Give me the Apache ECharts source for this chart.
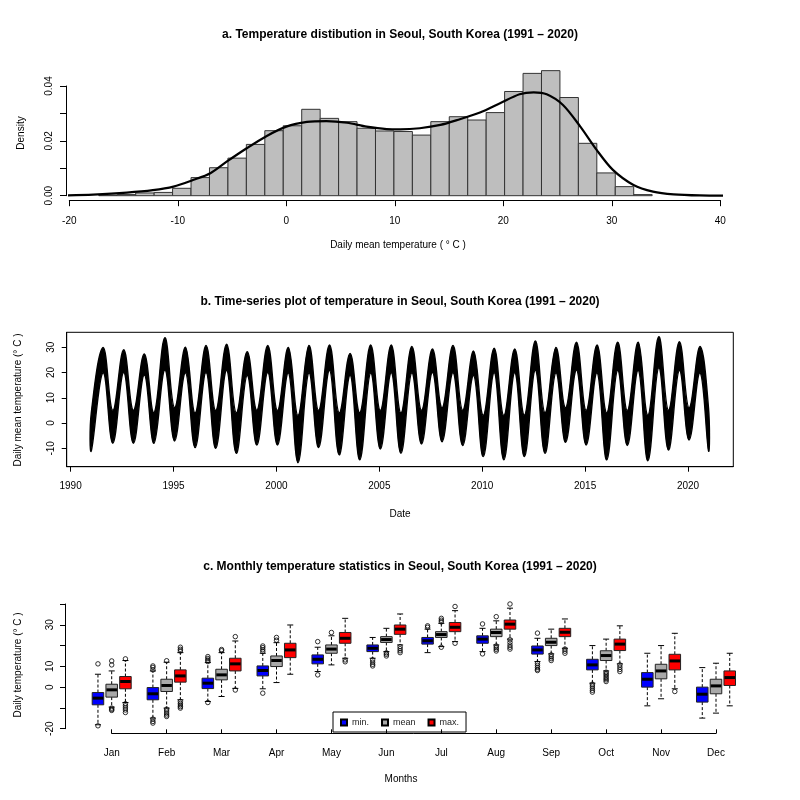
<!DOCTYPE html>
<html><head><meta charset="utf-8">
<script src="https://cdn.jsdelivr.net/npm/echarts@6/dist/echarts.min.js"></script>
<style>html,body{margin:0;padding:0;background:#fff}#c{width:800px;height:800px}</style>
</head><body><div id="c"></div>
<script>
// ---------- Panel a: histogram of daily mean temperature ----------
const histEdges = [-17.28,-15.58,-13.88,-12.18,-10.48,-8.78,-7.08,-5.38,-3.68,-1.98,-0.28,1.42,3.12,4.82,6.52,8.22,9.92,11.62,13.32,15.02,16.72,18.42,20.12,21.82,23.52,25.22,26.92,28.62,30.32,32.02,33.72];
const histDensity = [0.0002,0.0004,0.0010,0.0012,0.0027,0.0066,0.0102,0.0137,0.0187,0.0237,0.0255,0.0315,0.0282,0.0270,0.0246,0.0236,0.0234,0.0221,0.0270,0.0288,0.0276,0.0303,0.0380,0.0446,0.0456,0.0358,0.0191,0.0083,0.0033,0.0004];
const kdeX = [-20.3,-17.8,-14.7,-12.3,-10.4,-8.6,-7.0,-5.5,-3.65,-1.8,0.0,1.9,3.7,5.6,7.4,9.25,10.5,12.3,14.2,16.0,17.85,19.7,21.5,22.8,24.0,25.5,27.1,28.6,30.1,32.0,33.8,35.7,38.1,41.2];
const kdeY = [0.0001,0.0004,0.0011,0.0020,0.0033,0.0057,0.0082,0.0124,0.0173,0.0218,0.0252,0.0269,0.0272,0.0266,0.0252,0.0243,0.0242,0.0246,0.0258,0.0279,0.0303,0.0337,0.0370,0.0377,0.0370,0.0331,0.0252,0.0167,0.0094,0.0039,0.0015,0.0005,0.0001,0.0];

// ---------- Panel b: daily series, read as seasonal envelope turning points ----------
const tsYears = [1991,1992,1993,1994,1995,1996,1997,1998,1999,2000,2001,2002,2003,2004,2005,2006,2007,2008,2009,2010,2011,2012,2013,2014,2015,2016,2017,2018,2019,2020];
// top of the black band at each summer peak
const summerMax = [29.9,29.0,27.4,33.8,30.0,30.7,31.2,28.3,30.7,29.9,30.7,30.9,27.6,30.9,30.9,30.3,29.3,30.7,28.5,29.6,29.3,32.5,29.9,32.0,30.9,32.0,32.0,34.2,32.2,30.3];
// bottom of the band at each summer peak
const summerLow = [20,20,19,21,20,20,21,19,20,20,20,21,19,20,20,20,20,20,19,20,20,21,20,21,20,21,21,22,21,20];
// bottom of the band in each January (1991..2020) and at the end of Dec 2020
const winterMin = [-11,-8,-8,-8,-7.1,-9.7,-10,-12,-8.7,-8.7,-15.7,-9.7,-12.6,-14.6,-10.3,-12,-8.3,-7.4,-8.9,-13.3,-14.6,-13.3,-12,-7.6,-8.7,-14.6,-8.9,-15,-10.7,-6.7,-11];
// top of the band in each January and at the end of Dec 2020
const winterHigh = [4,5,5,4,6,4,5,4,5,5,3,5,4,4,5,4,5,6,5,3,3,3,4,6,5,4,5,3,5,6,6];
const tsXTicks = [1990,1995,2000,2005,2010,2015,2020];
const tsYTicks = [-10,0,10,20,30];

// ---------- Panel c: monthly boxplots [lower whisker, Q1, median, Q3, upper whisker] ----------
const months = ['Jan','Feb','Mar','Apr','May','Jun','Jul','Aug','Sep','Oct','Nov','Dec'];
const boxMin = [
 [-18.1,-8.5,-5.3,-2.6,6.2],[-14.9,-6.1,-3.2,-0.2,7.8],[-6.9,-0.7,1.9,4.3,11.8],[-0.8,5.4,8.0,10.2,16.3],
 [7.5,11.2,13.4,15.5,19.2],[13.9,17.1,18.7,20.3,23.9],[16.6,20.7,22.3,23.9,27.9],[17.1,21.1,23.1,24.7,28.3],
 [12.3,15.9,17.9,19.8,23.5],[1.9,8.3,10.7,13.4,20.0],[-9.0,0.0,3.8,7.0,16.3],[-14.9,-7.2,-3.4,0.0,9.4]];
const boxMean = [
 [-9.6,-4.8,-1.3,1.4,7.8],[-10.1,-2.1,0.8,3.8,12.0],[-4.5,3.5,5.9,8.6,16.6],[2.2,9.9,12.8,15.0,21.4],
 [10.7,16.3,18.3,20.3,24.7],[17.1,21.5,22.9,24.3,28.3],[19.5,23.9,25.3,26.7,30.7],[20.3,24.3,26.3,27.9,31.9],
 [16.0,20.0,21.6,23.5,27.9],[7.8,12.8,15.2,17.5,23.1],[-5.6,4.0,7.8,11.0,20.0],[-12.5,-3.2,0.6,3.8,11.5]];
const boxMax = [
 [-7.4,-0.8,2.7,5.1,12.8],[-6.1,2.4,5.4,8.3,16.6],[-0.6,7.8,11.2,13.9,22.2],[6.2,14.2,17.9,21.1,29.9],
 [13.9,21.1,23.5,26.3,33.1],[20.3,25.4,27.9,29.9,35.2],[21.9,26.7,28.8,31.1,36.8],[23.1,27.9,30.3,32.3,38.0],
 [18.7,24.3,26.4,28.3,32.8],[11.2,17.6,20.7,23.1,29.5],[-0.8,8.3,12.6,15.8,25.9],[-9.0,0.8,4.6,7.8,16.3]];
// outliers: [month number, value]
const outMin = [[1,11.2],[1,-18.6],[2,8.3],[2,9.5],[2,10.2],[2,-15.4],[2,-16.5],[2,-17.3],[3,12.3],[3,13.0],[3,13.8],[3,14.7],[3,-7.4],
 [4,17.1],[4,18.0],[4,19.0],[4,19.8],[4,-2.9],[5,21.9],[5,5.9],[6,13.1],[6,12.0],[6,11.0],[6,10.2],[7,29.5],[7,28.8],[8,30.4],[8,16.0],
 [9,26.0],[9,11.5],[9,10.5],[9,9.5],[9,8.6],[9,8.0],[10,1.4],[10,0.5],[10,-0.5],[10,-1.5],[10,-2.4]];
const outMean = [[1,10.7],[1,12.6],[1,-10.1],[1,-10.7],[1,-11.2],[2,12.7],[2,-10.6],[2,-11.5],[2,-12.5],[2,-13.4],[2,-14.1],[3,17.5],[3,18.1],
 [4,22.6],[4,23.9],[5,26.3],[6,16.5],[6,15.8],[6,15.0],[7,31.4],[7,32.2],[7,33.1],[7,19.2],[8,33.9],[8,19.8],[8,19.0],[8,18.2],[8,17.4],
 [9,15.5],[9,14.6],[9,13.7],[9,12.8],[10,7.2],[10,6.5],[10,5.8],[10,5.0],[10,4.2],[10,3.5],[10,2.7]];
const outMax = [[1,13.6],[1,-8.0],[1,-9.0],[1,-10.0],[1,-11.0],[1,-12.2],[2,17.4],[2,18.2],[2,19.2],[2,-6.9],[2,-7.8],[2,-8.6],[2,-9.4],[2,-10.1],
 [3,24.3],[3,-1.4],[5,13.1],[5,12.2],[6,19.5],[6,18.5],[6,17.5],[6,16.6],[7,38.8],[7,21.1],[8,40.0],[8,22.8],[8,21.5],[8,20.2],[8,19.2],[8,18.3],
 [9,18.3],[9,17.3],[9,16.3],[10,10.7],[10,9.6],[10,8.5],[10,7.5],[11,-2.1]];
const boxYLabels = [-20,0,10,30];

// ---------- build ----------
const FONT = "'Liberation Sans',Arial,sans-serif";
const histData = histDensity.map((d,i)=>[histEdges[i],histEdges[i+1],d]);
const kdeData = kdeX.map((x,i)=>[x,kdeY[i]]);
const T_TROUGH = 0.05, T_PEAK = 0.58;
const bandRows = [];   // [time, lower, upper]
tsYears.forEach((y,i)=>{
  bandRows.push([i===0 ? y+0.005 : y+T_TROUGH, winterMin[i], winterHigh[i]]);
  bandRows.push([y+T_PEAK, summerLow[i], summerMax[i]]);
});
{ const li = winterMin.length-1; bandRows.push([tsYears[tsYears.length-1]+0.995, winterMin[li], winterHigh[li]]); }

const OFF = [-0.25, 0, 0.25], HW = 0.105, CAP = 0.055;
function boxRender(k, fill){
  return function(params, api){
    const xc = api.value(0) + OFF[k];
    const lo = api.coord([xc, api.value(1)]), q1 = api.coord([xc, api.value(2)]),
          md = api.coord([xc, api.value(3)]), q3 = api.coord([xc, api.value(4)]),
          hi = api.coord([xc, api.value(5)]);
    const l = api.coord([xc-HW, 0])[0], r = api.coord([xc+HW, 0])[0];
    const cl = api.coord([xc-CAP, 0])[0], cr = api.coord([xc+CAP, 0])[0];
    const dash = {stroke:'#000', lineWidth:1, lineDash:[3,2]};
    const solid = {stroke:'#000', lineWidth:1};
    return {type:'group', children:[
      {type:'line', shape:{x1:hi[0], y1:q3[1], x2:hi[0], y2:hi[1]}, style:dash},
      {type:'line', shape:{x1:lo[0], y1:q1[1], x2:lo[0], y2:lo[1]}, style:dash},
      {type:'line', shape:{x1:cl, y1:hi[1], x2:cr, y2:hi[1]}, style:solid},
      {type:'line', shape:{x1:cl, y1:lo[1], x2:cr, y2:lo[1]}, style:solid},
      {type:'rect', shape:{x:l, y:q3[1], width:r-l, height:q1[1]-q3[1]}, style:{fill:fill, stroke:'#222', lineWidth:1}},
      {type:'line', shape:{x1:l+0.5, y1:md[1], x2:r-0.5, y2:md[1]}, style:{stroke:'#000', lineWidth:3}}
    ]};
  };
}
const boxColors = ['#0000FF','#A9A9A9','#FF0000'];
const boxNames = ['min.','mean','max.'];
const boxSets = [boxMin, boxMean, boxMax];
const outSets = [outMin, outMean, outMax];
const boxSeries = boxSets.map((set,k)=>({
  type:'custom', name:boxNames[k], xAxisIndex:2, yAxisIndex:2, clip:false,
  renderItem: boxRender(k, boxColors[k]),
  itemStyle:{color:boxColors[k], borderColor:'#000', borderWidth:1},
  encode:{x:0, y:[1,2,3,4,5]},
  data: set.map((b,i)=>[i+1].concat(b))
}));
const outSeries = outSets.map((set,k)=>({
  type:'scatter', name:'out'+k, xAxisIndex:2, yAxisIndex:2, clip:false, silent:true,
  symbol:'circle', symbolSize:4.5,
  itemStyle:{color:'rgba(0,0,0,0)', borderColor:'#000', borderWidth:1},
  data: set.map(p=>[p[0]+OFF[k], p[1]])
}));

const axisCommon = {
  z:10,
  axisLine:{show:true, onZero:false, lineStyle:{color:'#000', width:1}},
  axisTick:{show:true, length:6, lineStyle:{color:'#000'}},
  axisLabel:{color:'#000', fontSize:10, fontFamily:FONT},
  splitLine:{show:false}
};
function ax(extra){ return echarts.util.merge(echarts.util.clone(axisCommon), extra, true); }

function txt(x,y,s,opt){
  opt = opt||{};
  return {type:'text', x:x, y:y, rotation:opt.rot||0, style:{text:s, fill:'#000',
    font:(opt.bold?'bold ':'')+(opt.size||10)+'px '+FONT, textAlign:'center', textVerticalAlign:'middle'}};
}

const option = {
  animation:false,
  backgroundColor:'#fff',
  textStyle:{fontFamily:FONT},
  grid:[
    {left:69.3, top:86, width:651, height:109.7},
    {left:66.7, top:332.3, width:666.6, height:134.4, show:true, borderColor:'#000', borderWidth:1, backgroundColor:'transparent'},
    {left:111.7, top:604, width:604.3, height:124.7}
  ],
  xAxis:[
    ax({gridIndex:0, type:'value', min:-20, max:40, interval:10, offset:4.5, axisLabel:{margin:16}}),
    ax({gridIndex:1, type:'value', min:1989.81, max:2022.2, axisTick:{length:5, customValues:tsXTicks},
        axisLabel:{margin:15, customValues:tsXTicks, formatter:v=>String(Math.round(v))}}),
    ax({gridIndex:2, type:'value', min:1, max:12, interval:1, offset:4.6, axisTick:{inside:true, length:4},
        axisLabel:{margin:15, formatter:v=>months[Math.round(v)-1]||''}})
  ],
  yAxis:[
    ax({gridIndex:0, type:'value', min:0, max:0.04, interval:0.01, offset:3.3,
        axisLabel:{rotate:90, margin:12, formatter:v=>{const n=Math.round(v*100); return n%2===0? v.toFixed(2):'';}}}),
    ax({gridIndex:1, type:'value', min:-17.29, max:35.94, axisTick:{length:5, customValues:tsYTicks},
        axisLabel:{rotate:90, margin:10, customValues:tsYTicks, formatter:v=>String(Math.round(v))}}),
    ax({gridIndex:2, type:'value', min:-20, max:40, interval:10, offset:46.7, axisTick:{length:5},
        axisLabel:{rotate:90, margin:10, formatter:v=>boxYLabels.indexOf(Math.round(v))>=0? String(Math.round(v)):''}})
  ],
  legend:{
    data:boxNames, left:333, top:712, orient:'horizontal', icon:'rect', itemWidth:6, itemHeight:6, itemGap:12,
    borderColor:'#000', borderWidth:1, borderRadius:0, padding:[6,7,5,7], backgroundColor:'#fff',
    textStyle:{fontSize:9, color:'#222', fontFamily:FONT}, selectedMode:false
  },
  graphic:[
    txt(400,35,'a. Temperature distibution in Seoul, South Korea (1991 – 2020)',{bold:true,size:12}),
    txt(21,133,'Density',{rot:Math.PI/2}),
    txt(398,245,'Daily mean temperature ( ° C )'),
    txt(400,302,'b. Time-series plot of temperature in Seoul, South Korea (1991 – 2020)',{bold:true,size:12}),
    txt(18,400,'Daily mean temperature (° C )',{rot:Math.PI/2}),
    txt(400,514,'Date'),
    txt(400,567,'c. Monthly temperature statistics in Seoul, South Korea (1991 – 2020)',{bold:true,size:12}),
    txt(18,665,'Daily temperature (° C )',{rot:Math.PI/2}),
    txt(401,779,'Months')
  ],
  series:[
    {type:'custom', xAxisIndex:0, yAxisIndex:0, clip:false, encode:{x:[0,1], y:2}, data:histData,
     renderItem:function(params, api){
       const p0 = api.coord([api.value(0), api.value(2)]);
       const p1 = api.coord([api.value(1), 0]);
       return {type:'rect', shape:{x:p0[0], y:p0[1], width:p1[0]-p0[0], height:p1[1]-p0[1]},
               style:{fill:'#BEBEBE', stroke:'#333', lineWidth:1}};
     }},
    {type:'line', xAxisIndex:0, yAxisIndex:0, clip:false, data:kdeData, smooth:0.3, symbol:'none',
     lineStyle:{color:'#000', width:2.2}, z:5},
    {type:'custom', xAxisIndex:1, yAxisIndex:1, encode:{x:0, y:[1,2]}, data:bandRows, silent:true,
     renderItem:function(params, api){
       if (params.dataIndex !== 0) return null;
       const up = bandRows.map(r=>api.coord([r[0], r[2]]));
       const lo = bandRows.map(r=>api.coord([r[0], r[1]])).reverse();
       return {type:'polygon', shape:{points:up.concat(lo), smooth:0.4},
               style:{fill:'#000', stroke:'#000', lineWidth:1.4}};
     }}
  ].concat(boxSeries, outSeries)
};
const chart = echarts.init(document.getElementById('c'), null, {renderer:'canvas'});
chart.setOption(option);
</script></body></html>
